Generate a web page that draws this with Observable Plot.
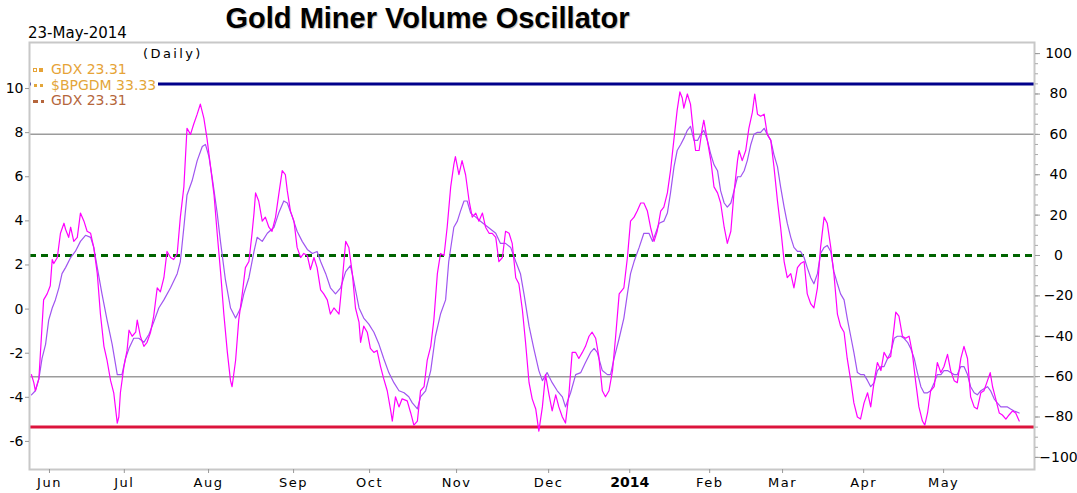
<!DOCTYPE html>
<html>
<head>
<meta charset="utf-8">
<script src="https://cdn.jsdelivr.net/npm/d3@7"></script>
<script src="https://cdn.jsdelivr.net/npm/@observablehq/plot@0.6"></script>
<style>
  html, body { margin: 0; padding: 0; background: #fff; }
  #wrap { position: relative; width: 1077px; height: 493px; overflow: hidden; font-family: "DejaVu Sans", sans-serif; color: #000; }
  #chart { position: absolute; left: 0; top: 0; }
  #title { position: absolute; left: 0; top: 4px; width: 855px; text-align: center; font: bold 29px/29px "Liberation Sans", Arial, sans-serif; color: #000; text-shadow: 1px 1px 1px rgba(0,0,0,0.25); white-space: nowrap; }
  #date { position: absolute; left: 28px; top: 26px; font: 15px/15px "DejaVu Sans", sans-serif; white-space: nowrap; }
  #period { position: absolute; left: 143px; top: 47px; font: 13px/13px "DejaVu Sans", sans-serif; letter-spacing: 2.4px; white-space: nowrap; }
  #legend { position: absolute; left: 31px; top: 62px; background: #fff; padding-right: 2px; font: 14px/15.5px "DejaVu Sans", sans-serif; white-space: nowrap; }
  #legend .row { height: 15.5px; display: flex; align-items: center; }
  #legend .mk { width: 20px; height: 15.5px; position: relative; flex: none; }
  #legend .mk i { position: absolute; display: block; }
  .months text { letter-spacing: 1.5px; }
</style>
</head>
<body>
<div id="wrap">
  <div id="chart"></div>
  <div id="title"></div>
  <div id="date"></div>
  <div id="period"></div>
  <div id="legend"></div>
</div>
<script>
// ---------- texts ----------
const titleText = "Gold Miner Volume Oscillator";
const dateText = "23-May-2014";
const periodText = "(Daily)";
const legendItems = [
  {label: "GDX 23.31", color: "#e6a337", marker: "square"},
  {label: "$BPGDM 33.33", color: "#e3a63a", marker: "dot"},
  {label: "GDX 23.31", color: "#b5663c", marker: "dash"}
];

// ---------- x axis (trading-bar index) ----------
const monthBars = [4.6, 23.7, 45.2, 66.9, 86.3, 108.5, 132, 173.1, 191.7, 212.4, 232.8];
const monthLabels = ["Jun", "Jul", "Aug", "Sep", "Oct", "Nov", "Dec", "Feb", "Mar", "Apr", "May"];
const yearBars = [152.7];
const yearLabels = ["2014"];
const xDomain = [-0.5, 256];

// ---------- y axes ----------
const yDomain = [-106, 105.5];
const rightTicks = [100, 80, 60, 40, 20, 0, -20, -40, -60, -80, -100];
const rightMinorTicks = d3.range(-100, 101, 5);
const leftTicks = [10, 8, 6, 4, 2, 0, -2, -4, -6];
const leftOffset = -26.55;   // left-axis value 0 expressed in right-axis units
const leftScale = 10.925;    // right-axis units per left-axis unit

// ---------- reference levels ----------
const upperLevel = [85];
const lowerLevel = [-85];
const greyLevels = [60, -60];
const zeroLevel = [0];

// ---------- series: [bar, value] ----------
const oscFast = [
[0,-59],[0.6,-63],[1.0,-67],[1.9,-61],[2.3,-48],[2.7,-35],[3.1,-22],[4.0,-19],[4.8,-15],[5.3,-2],[5.7,-4],[6.6,-1],[7.4,11],[8.3,16],[8.7,13],[9.5,9],[10.0,14],[10.8,7],[11.7,9],[12.5,21],[13.4,17],[14.2,12],[15.1,11],[15.9,4],[16.8,-9],[17.6,-29],[18.5,-45],[19.3,-52],[20.2,-62],[21.0,-68],[21.9,-83],[22.3,-80],[22.7,-68],[23.6,-55],[24.4,-47],[24.9,-37],[25.7,-40],[26.6,-38],[27.0,-32],[27.8,-40],[28.7,-45],[29.5,-43],[30.4,-38],[31.2,-30],[32.1,-16],[32.9,-18],[33.8,-11],[34.6,2],[35.5,-1],[36.3,-2],[37.2,1],[38.0,19],[38.9,34],[39.7,63],[40.6,60],[41.4,65],[42.3,70],[43.1,75],[44.0,68],[44.8,58],[45.7,44],[46.6,30],[47.4,11],[48.3,-9],[49.1,-29],[50.0,-48],[50.8,-62],[51.2,-65],[52.1,-52],[52.9,-32],[53.8,-19],[54.6,-6],[55.5,-3],[56.3,11],[56.8,21],[57.2,31],[58.0,27],[58.9,17],[59.7,19],[60.6,14],[61.4,12],[62.3,19],[63.1,30],[64.0,42],[64.8,40],[65.3,32],[66.1,22],[67.0,17],[67.8,4],[68.7,-1],[69.5,1],[70.4,0],[71.2,-7],[72.1,-1],[72.9,-6],
[73.8,-17],[74.6,-19],[75.5,-22],[76.3,-29],[77.2,-26],[78.5,-29],[79.3,-13],[80.2,7],[81.0,4],[81.9,-9],[82.7,-26],[83.6,-33],[84.0,-43],[84.8,-35],[85.7,-38],[86.5,-46],[87.4,-48],[88.2,-47],[89.1,-55],[89.9,-61],[90.8,-67],[91.7,-77],[92.1,-82],[92.9,-70],[93.8,-75],[94.6,-71],[95.9,-72],[96.8,-78],[97.6,-84],[98.5,-82],[99.3,-67],[100.2,-65],[101.0,-52],[101.9,-45],[102.7,-32],[103.6,-9],[104.4,1],[105.3,0],[106.1,14],[107.0,34],[107.8,45],[108.2,49],[109.1,40],[109.9,47],[110.8,40],[111.7,27],[112.5,19],[113.4,21],[114.2,17],[115.1,21],[115.9,14],[116.8,11],[117.6,11],[118.5,9],[119.3,-3],[120.2,-1],[121.0,12],[121.9,11],[122.7,6],[123.6,-11],[124.4,-14],[125.3,-27],[126.1,-43],[127.0,-63],[127.8,-71],[128.7,-76],[129.5,-87],[130.4,-75],[131.2,-59],[132.1,-69],[132.9,-77],[133.8,-69],[134.6,-75],[135.5,-80],[136.3,-83],[137.2,-68],[138.0,-48],[138.9,-48],[139.7,-51],[140.6,-48],[141.4,-45],[142.3,-40],[143.1,-38],[144.0,-41],[144.8,-50],[145.7,-67],[146.5,-70],[147.4,-67],[148.3,-57],[149.1,-40],[150.0,-19],
[151.2,-16],[152.1,-1],[152.9,17],[153.8,19],[154.6,22],[155.5,26],[156.3,26],[157.2,22],[158.0,14],[158.9,7],[159.7,12],[160.6,22],[161.4,24],[162.3,31],[163.1,42],[164.0,58],[164.8,72],[165.5,81],[166.1,78],[166.5,73],[167.4,80],[168.2,75],[169.1,58],[169.5,52],[170.4,52],[171.2,63],[171.6,67],[172.5,57],[173.4,47],[174.2,34],[175.1,31],[175.9,26],[176.8,14],[177.6,6],[178.5,12],[179.3,31],[180.2,47],[180.6,52],[181.4,47],[182.3,52],[183.1,63],[184.0,71],[184.6,80],[185.3,70],[186.1,69],[187.0,70],[187.8,60],[188.7,57],[189.5,44],[190.4,27],[191.2,14],[192.1,-3],[192.9,-11],[193.8,-9],[194.6,-16],[195.5,-6],[196.3,-4],[197.2,-3],[198.0,-19],[198.9,-24],[199.7,-26],[200.6,-16],[201.4,4],[202.3,19],[203.1,16],[204.0,4],[204.8,-9],[205.7,-29],[206.5,-35],[207.4,-38],[208.2,-51],[209.1,-62],[209.9,-73],[210.8,-80],[211.6,-81],[212.5,-73],[213.4,-68],[214.2,-75],[215.1,-62],[215.9,-53],[216.8,-57],[217.6,-48],[218.5,-51],[219.3,-50],[220.2,-35],[220.6,-28],[221.4,-30],[222.3,-40],[223.1,-41],[224.0,-40],[224.8,-48],[225.7,-63],[226.5,-75],[227.4,-82],[228.0,-84],[228.7,-78],[229.5,-67],[230.4,-65],[231.2,-53],[232.1,-58],[232.9,-55],[233.8,-49],[234.6,-57],[235.5,-62],[236.3,-63],[237.2,-51],[238.0,-45],[238.9,-51],[239.7,-70],[240.6,-75],[241.4,-76],[242.3,-68],[243.1,-67],[244.0,-62],[244.7,-58],[245.3,-65],[246.1,-71],[247.0,-78],[247.8,-79],[248.7,-81],[249.5,-79],[250.4,-77],[251.2,-78],[252.1,-82]
];

const oscSignal = [
[0,-69],[1.0,-67],[1.9,-61],[2.7,-51],[3.6,-44],[4.4,-32],[5.3,-26],[6.1,-22],[7.0,-16],[7.8,-9],[8.7,-6],[10.0,-1],[11.2,2],[12.5,7],[13.8,10],[15.1,9],[15.9,4],[16.8,-6],[18.0,-19],[19.3,-32],[20.6,-44],[21.9,-59],[23.1,-59],[24.0,-51],[24.9,-46],[26.1,-41],[27.4,-41],[28.7,-43],[30.0,-39],[31.2,-33],[32.5,-26],[33.8,-22],[35.5,-16],[37.2,-9],[38.0,-3],[38.9,14],[39.7,30],[41.0,37],[42.3,47],[43.6,54],[44.4,55],[45.3,49],[46.1,39],[47.4,21],[48.3,6],[49.5,-12],[50.8,-26],[52.1,-31],[53.4,-26],[54.2,-19],[55.5,-11],[56.8,2],[57.6,9],[58.9,7],[60.2,11],[61.9,14],[63.1,21],[64.4,27],[65.3,26],[66.6,19],[67.8,12],[69.1,7],[70.4,3],[71.7,1],[72.9,2],
[73.8,-3],[75.1,-9],[76.3,-16],[77.6,-19],[78.9,-16],[80.2,-8],[81.4,-5],[82.3,-13],[83.6,-26],[84.8,-31],[86.1,-34],[87.4,-38],[88.7,-44],[89.9,-51],[91.2,-58],[92.5,-63],[93.8,-67],[95.1,-68],[96.3,-70],[97.2,-73],[98.5,-76],[99.3,-70],[100.6,-67],[101.9,-57],[103.1,-40],[104.4,-29],[105.7,-22],[106.5,-3],[107.8,14],[108.7,17],[109.5,22],[110.4,27],[111.2,27],[112.1,21],[113.4,19],[114.6,17],[115.9,15],[117.2,13],[118.5,11],[119.7,6],[121.0,6],[122.3,4],[123.6,-3],[124.8,-9],[125.7,-19],[127.0,-35],[128.2,-46],[129.5,-57],[130.4,-62],[131.6,-58],[132.9,-63],[134.2,-67],[135.5,-70],[136.3,-75],[137.6,-68],[138.9,-59],[140.2,-58],[141.4,-53],[142.7,-48],[143.6,-46],[144.4,-48],[145.7,-57],[147.0,-59],[147.8,-59],[148.7,-51],[150.0,-41],
[151.2,-31],[152.1,-19],[152.9,-9],[153.8,-3],[155.1,4],[156.3,11],[157.6,11],[158.5,7],[159.3,11],[160.2,16],[161.4,17],[162.3,21],[163.1,31],[164.0,44],[164.8,52],[165.7,55],[166.5,58],[167.4,62],[168.2,64],[169.1,57],[170.0,57],[170.8,60],[171.6,62],[172.5,57],[173.4,50],[174.2,45],[175.1,42],[175.9,32],[176.8,26],[177.6,24],[178.5,26],[179.3,32],[180.2,39],[181.0,39],[181.9,42],[182.7,47],[183.6,55],[184.4,60],[185.3,61],[186.1,61],[187.0,63],[187.8,60],[188.7,57],[189.5,50],[190.4,44],[191.2,34],[192.1,24],[192.9,16],[193.8,9],[194.6,4],[195.5,2],[196.3,2],[197.2,-1],[198.0,-6],[198.9,-11],[199.7,-14],[200.6,-9],[201.4,1],[202.3,4],[203.1,5],[204.0,2],[204.8,-8],[205.7,-14],[206.5,-19],[207.4,-22],[208.2,-31],[209.1,-40],[209.9,-48],[210.8,-58],[211.6,-59],[212.5,-59],[213.4,-62],[214.2,-65],[215.1,-63],[215.9,-57],[216.8,-55],[217.6,-55],[218.5,-51],[219.3,-48],[220.2,-41],[221.0,-40],[221.9,-40],[222.7,-41],[223.6,-43],[224.4,-46],[225.3,-51],[226.1,-58],[227.0,-65],[227.8,-68],[228.7,-68],[229.5,-67],[230.4,-63],[231.2,-59],[232.1,-59],[232.9,-57],[233.8,-57],[234.6,-58],[235.5,-59],[236.3,-59],[237.2,-55],[238.0,-55],[238.9,-59],[239.7,-65],[240.6,-68],[241.4,-69],[242.3,-67],[243.1,-66],[244.0,-65],[244.8,-67],[245.7,-71],[246.5,-73],[247.4,-75],[248.2,-75],[249.1,-75],[249.9,-76],[250.8,-77],[252.1,-78]
];

// ---------- colours ----------
const fastColor = "#ff00ff";
const signalColor = "#a055f0";

// ---------- build ----------
document.getElementById("title").textContent = titleText;
document.getElementById("date").textContent = dateText;
document.getElementById("period").textContent = periodText;

const legend = document.getElementById("legend");
for (const item of legendItems) {
  const row = document.createElement("div");
  row.className = "row";
  row.style.color = item.color;
  const mk = document.createElement("span");
  mk.className = "mk";
  const parts = item.marker === "square"
    ? [{l: 2, w: 4, h: 4, hollow: true}, {l: 8, w: 4, h: 4}]
    : item.marker === "dot"
    ? [{l: 3, w: 3, h: 3}, {l: 9, w: 3, h: 3}]
    : [{l: 2, w: 5, h: 3}, {l: 10, w: 3, h: 3}];
  for (const p of parts) {
    const i = document.createElement("i");
    i.style.left = p.l + "px";
    i.style.top = (8 - p.h / 2) + "px";
    i.style.width = p.w + "px";
    i.style.height = p.h + "px";
    if (p.hollow) { i.style.border = "1px solid " + item.color; i.style.boxSizing = "border-box"; }
    else i.style.background = item.color;
    mk.appendChild(i);
  }
  const t = document.createElement("span");
  t.textContent = item.label;
  row.appendChild(mk);
  row.appendChild(t);
  legend.appendChild(row);
}

const monthLabelOf = new Map(monthBars.map((b, i) => [b, monthLabels[i]]));
const yearLabelOf = new Map(yearBars.map((b, i) => [b, yearLabels[i]]));
const toRight = v => leftOffset + leftScale * v;

const chart = Plot.plot({
  width: 1077,
  height: 493,
  marginLeft: 29,
  marginRight: 43,
  marginTop: 42,
  marginBottom: 24,
  style: {fontFamily: "DejaVu Sans, sans-serif", fontSize: "14px", color: "#000", background: "transparent", overflow: "visible"},
  x: {type: "linear", domain: xDomain, axis: null},
  y: {type: "linear", domain: yDomain, axis: null},
  marks: [
    Plot.ruleY(greyLevels, {stroke: "#9c9c9c", strokeWidth: 1.5}),
    Plot.ruleY(zeroLevel, {stroke: "#006400", strokeWidth: 3, strokeDasharray: "7,5"}),
    Plot.ruleY(upperLevel, {stroke: "#00008b", strokeWidth: 3}),
    Plot.ruleY(lowerLevel, {stroke: "#dc143c", strokeWidth: 3}),
    Plot.line(oscSignal, {x: d => d[0], y: d => d[1], stroke: signalColor, strokeWidth: 1.2}),
    Plot.line(oscFast, {x: d => d[0], y: d => d[1], stroke: fastColor, strokeWidth: 1.2}),
    Plot.frame({stroke: "#c8c8c8", strokeWidth: 2}),
    // left axis
    Plot.axisY(leftTicks.map(toRight), {
      anchor: "left", tickSize: 4, tickPadding: 2, stroke: "#999", fill: "#000", fontSize: 14,
      tickFormat: d => String(Math.round((d - leftOffset) / leftScale))
    }),
    // right axis
    Plot.axisY(rightMinorTicks, {anchor: "right", tickSize: 3, stroke: "#aaa", fill: "none", tickFormat: () => ""}),
    Plot.axisY(rightTicks, {anchor: "right", tickSize: 5, tickPadding: 19, textAnchor: "middle", stroke: "#999", fill: "#000", fontSize: 14}),
    // bottom axis
    Plot.axisX(monthBars, {anchor: "bottom", tickSize: 4, tickPadding: 4, stroke: "#999", fill: "#000", fontSize: 13, className: "months",
      tickFormat: d => monthLabelOf.get(d)}),
    Plot.axisX(yearBars, {anchor: "bottom", tickSize: 4, tickPadding: 4, stroke: "#999", fill: "#000", fontSize: 14, fontWeight: "bold",
      tickFormat: d => yearLabelOf.get(d)})
  ]
});
document.getElementById("chart").appendChild(chart);
</script>
</body>
</html>
